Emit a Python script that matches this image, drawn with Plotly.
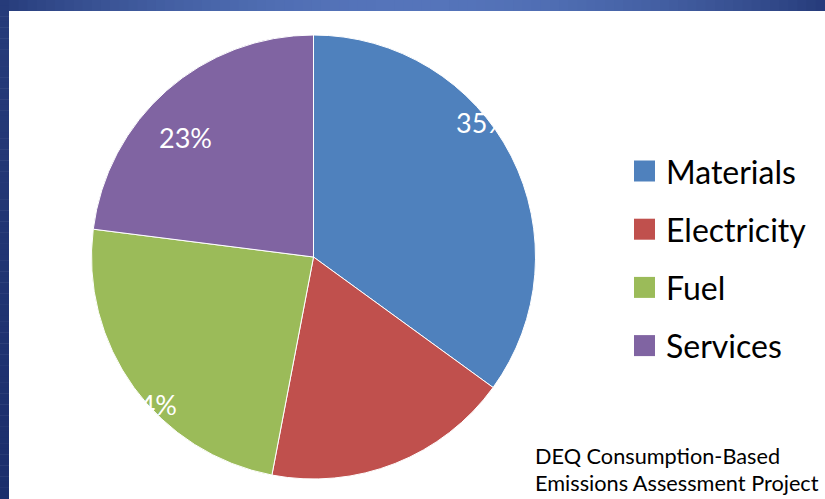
import math
import plotly.graph_objects as go

# Share of consumption-based emissions by category (percent)
categories = ["Materials", "Electricity", "Fuel", "Services"]
shares = [35, 18, 24, 23]
slice_colors = ["#4F81BD", "#C0504D", "#9BBB59", "#8064A2"]
label_visible = [True, False, True, True]
source_lines = ["DEQ Consumption-Based", "Emissions Assessment Project"]

# Page geometry (px)
W, H = 825, 499
cx, cy, R = 313.5, 257.0, 222.0
FONT = "Lato"

# Placement of the percentage labels relative to each slice's mid-angle
label_nudge_deg = [-11.5, 0.0, -6.0, -5.5]
label_radius_frac = [0.975, 0.6, 0.99, 0.79]


def px(x):
    return x / W


def py(y):
    return 1 - y / H


fig = go.Figure(
    go.Pie(
        labels=categories,
        values=shares,
        sort=False,
        direction="clockwise",
        rotation=0,
        marker=dict(colors=slice_colors, line=dict(color="#FFFFFF", width=1)),
        textinfo="none",
        hoverinfo="label+percent",
        showlegend=False,
        domain=dict(x=[px(cx - R), px(cx + R)], y=[py(cy + R), py(cy - R)]),
    )
)

shapes = []
annotations = []

# Blue slide frame: horizontal gradient along the top, vertical along the left
edge = (38, 59, 122)
mid = (85, 116, 186)
steps = 90
for k in range(steps):
    t0, t1 = k / steps, (k + 1) / steps
    tm = (t0 + t1) / 2
    w = math.sin(math.pi * tm) ** 0.9
    c = tuple(round(edge[j] + (mid[j] - edge[j]) * w) for j in range(3))
    shapes.append(dict(type="rect", xref="paper", yref="paper",
                       x0=t0, x1=t1 + 0.001, y0=py(11), y1=1,
                       line=dict(width=0), fillcolor="rgb(%d,%d,%d)" % c, layer="below"))

left_top = (38, 59, 122)
left_bottom = (27, 46, 108)
for k in range(steps):
    t0, t1 = k / steps, (k + 1) / steps
    tm = (t0 + t1) / 2
    c = tuple(round(left_top[j] + (left_bottom[j] - left_top[j]) * tm) for j in range(3))
    shapes.append(dict(type="rect", xref="paper", yref="paper",
                       x0=0, x1=px(9), y0=1 - t1, y1=1 - t0 + 0.001,
                       line=dict(width=0), fillcolor="rgb(%d,%d,%d)" % c, layer="below"))

# Percentage labels in white, positioned from the slice angles
total = sum(shares)
start = 0.0
for i, v in enumerate(shares):
    span = 360.0 * v / total
    if label_visible[i]:
        a = math.radians(start + span / 2 + label_nudge_deg[i])
        r = R * label_radius_frac[i]
        lx = cx + r * math.sin(a)
        ly = cy - r * math.cos(a)
        annotations.append(dict(x=px(lx), y=py(ly), xref="paper", yref="paper",
                                text=f"{v}%", showarrow=False,
                                xanchor="center", yanchor="middle",
                                font=dict(family=FONT, size=27, color="#FFFFFF")))
    start += span

# Legend: colour squares with category names
leg_top, leg_step = 171.0, 58.2
sq = 21
for i, name in enumerate(categories):
    yc = leg_top + i * leg_step
    shapes.append(dict(type="rect", xref="paper", yref="paper",
                       x0=px(634), x1=px(634 + sq), y0=py(yc + sq / 2), y1=py(yc - sq / 2),
                       line=dict(width=0), fillcolor=slice_colors[i]))
    annotations.append(dict(x=px(664), y=py(yc), xref="paper", yref="paper",
                            text=name, showarrow=False, xanchor="left", yanchor="middle",
                            font=dict(family=FONT, size=32, color="#000000")))

# Source note
for j, line in enumerate(source_lines):
    annotations.append(dict(x=px(533), y=py(456 + j * 26.5), xref="paper", yref="paper",
                            text=line, showarrow=False, xanchor="left", yanchor="middle",
                            font=dict(family=FONT, size=21.7, color="#000000")))

fig.update_layout(
    width=W, height=H, autosize=False,
    margin=dict(l=0, r=0, t=0, b=0),
    paper_bgcolor="#FFFFFF", plot_bgcolor="#FFFFFF",
    shapes=shapes, annotations=annotations,
    showlegend=False,
)

fig.write_html("out.html")
